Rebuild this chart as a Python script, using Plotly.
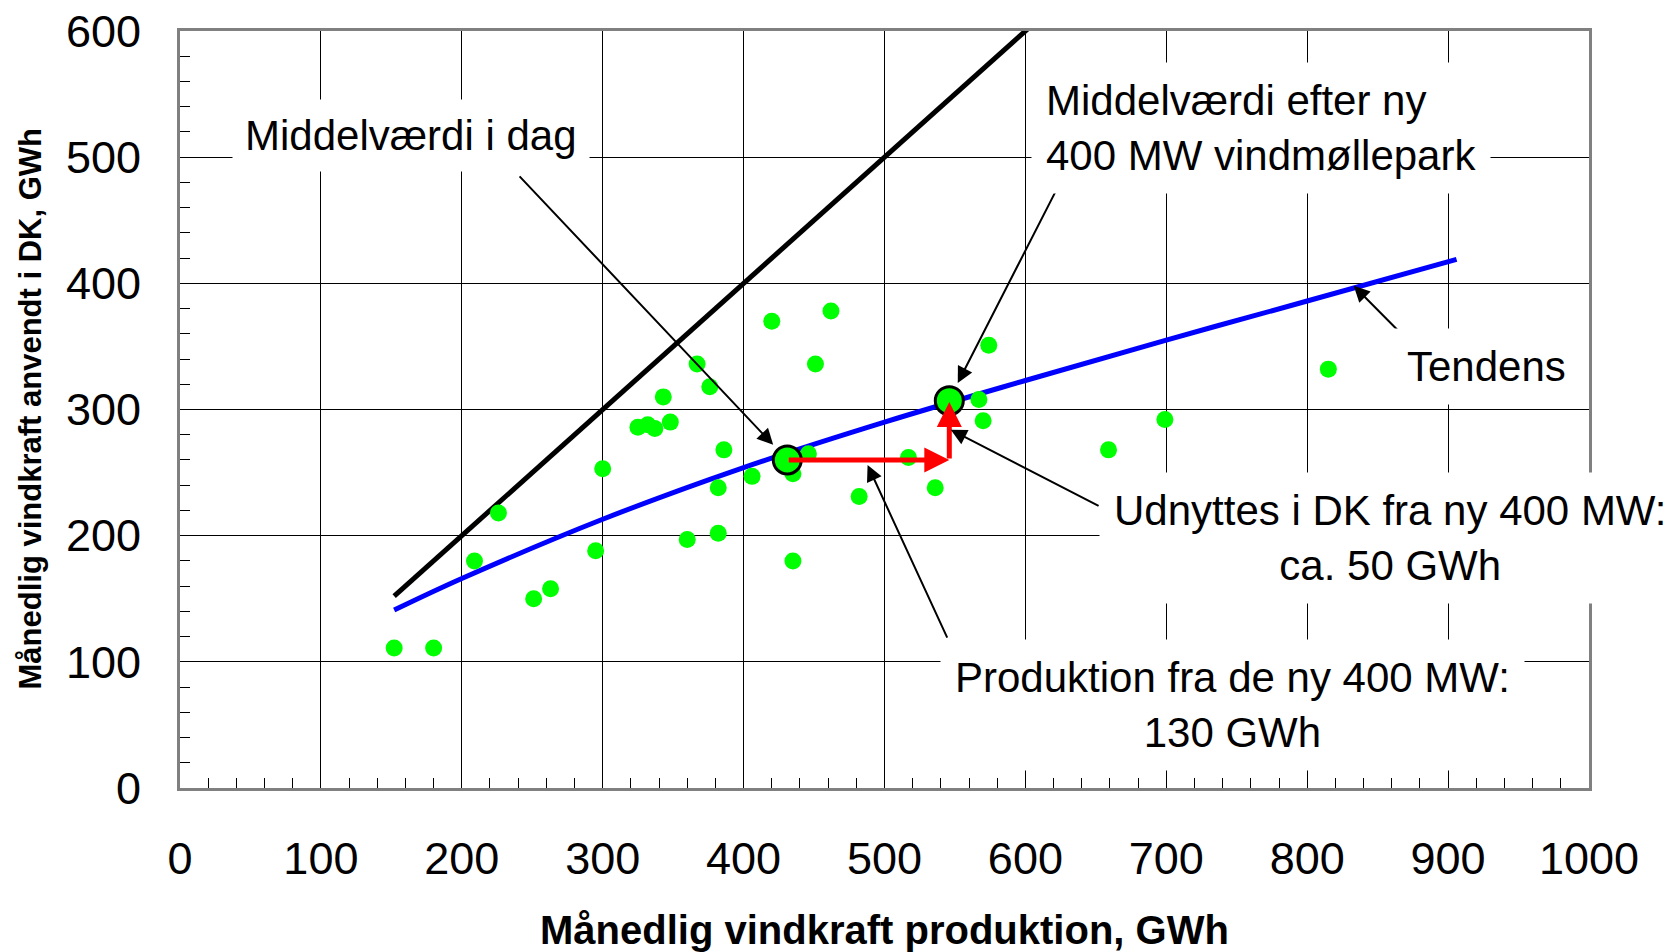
import plotly.graph_objects as go

# Monthly data points (GWh): production vs. used in DK
prod_x = [152, 180, 209, 226, 251, 263, 295, 300, 325, 332, 337, 343, 348, 360, 367,
          376, 382, 382, 386, 406, 420, 435, 435, 446, 451, 462, 482, 517, 536, 567,
          570, 574, 659, 699, 815]
used_y = [111, 111, 180, 218, 150, 158, 188, 253, 286, 288, 285, 310, 290, 197, 336,
          318, 238, 202, 268, 247, 370, 249, 180, 265, 336, 378, 231, 262, 238, 308,
          291, 351, 268, 292, 332]

# 1:1 line
one_x = [152, 609]
one_y = [152, 609]

# Trend curve
trend_x = [152, 200, 300, 400, 500, 600, 700, 800, 906]
trend_y = [141, 166, 213, 254, 290, 323, 355, 386, 419]

# Mean values
mean_today = (431, 260)
mean_after = (546, 307)

x_ticks = [0, 100, 200, 300, 400, 500, 600, 700, 800, 900, 1000]
y_ticks = [0, 100, 200, 300, 400, 500, 600]

FONT = "Liberation Sans, Arial, sans-serif"

fig = go.Figure()
fig.add_trace(go.Scatter(x=one_x, y=one_y, mode="lines",
                         line=dict(color="black", width=5), cliponaxis=False, showlegend=False))
fig.add_trace(go.Scatter(x=trend_x, y=trend_y, mode="lines", line_shape="spline",
                         line=dict(color="#0000ff", width=5), showlegend=False))
fig.add_trace(go.Scatter(x=prod_x, y=used_y, mode="markers",
                         marker=dict(color="#00ff00", size=17, line=dict(width=0)),
                         showlegend=False))
fig.add_trace(go.Scatter(x=[mean_today[0], mean_after[0]], y=[mean_today[1], mean_after[1]],
                         mode="markers",
                         marker=dict(color="#00ff00", size=28, line=dict(color="black", width=3)),
                         showlegend=False))

ann = []
# red arrows
ann.append(dict(x=mean_after[0], y=mean_today[1], ax=mean_today[0], ay=mean_today[1],
                xref="x", yref="y", axref="x", ayref="y", text="", showarrow=True,
                arrowhead=2, arrowsize=1.0, arrowwidth=5, arrowcolor="#ff0000"))
ann.append(dict(x=mean_after[0], y=mean_after[1] - 1, ax=mean_after[0], ay=mean_today[1],
                xref="x", yref="y", axref="x", ayref="y", text="", showarrow=True,
                arrowhead=2, arrowsize=1.0, arrowwidth=5, arrowcolor="#ff0000"))

# black pointer arrows (head x,y ; tail ax,ay)
arrows = [
    (421, 272, 240, 486),
    (552, 321, 627, 485),
    (833, 398, 865, 362),
    (547, 284, 653, 223),
    (488, 256, 545, 118),
]
for hx, hy, tx, ty in arrows:
    ann.append(dict(x=hx, y=hy, ax=tx, ay=ty, xref="x", yref="y", axref="x", ayref="y",
                    text="", showarrow=True, arrowhead=2, arrowsize=1.6, arrowwidth=2,
                    arrowcolor="black"))

tf = dict(family=FONT, size=42, color="black")
ann.append(dict(x=164, y=517, xref="x", yref="y", text="Middelværdi i dag", showarrow=False,
                font=tf, bgcolor="white", borderpad=12, xanchor="center", yanchor="middle"))
ann.append(dict(x=604, y=523, xref="x", yref="y",
                text="Middelværdi efter ny<br>400 MW vindmøllepark", showarrow=False,
                font=tf, bgcolor="white", borderpad=14, xanchor="left", yanchor="middle",
                align="left"))
ann.append(dict(x=860, y=334, xref="x", yref="y", text="Tendens", showarrow=False,
                font=tf, bgcolor="white", borderpad=14, xanchor="left", yanchor="middle"))
ann.append(dict(x=859, y=198, xref="x", yref="y",
                text="Udnyttes i DK fra ny 400 MW:<br>ca. 50 GWh", showarrow=False,
                font=tf, bgcolor="white", borderpad=14, xanchor="center", yanchor="middle",
                align="center"))
ann.append(dict(x=747, y=66, xref="x", yref="y",
                text="Produktion fra de ny 400 MW:<br>130 GWh", showarrow=False,
                font=tf, bgcolor="white", borderpad=14, xanchor="center", yanchor="middle",
                align="center"))

# axis titles
ann.append(dict(x=0.5, y=0, xref="paper", yref="paper", yshift=-142,
                text="<b>Månedlig vindkraft produktion, GWh</b>", showarrow=False,
                font=dict(family=FONT, size=40, color="black"),
                xanchor="center", yanchor="middle"))
ann.append(dict(x=0, y=0.5, xref="paper", yref="paper", xshift=-150,
                text="<b>Månedlig vindkraft anvendt i DK, GWh</b>", showarrow=False,
                textangle=-90, font=dict(family=FONT, size=31, color="black"),
                xanchor="center", yanchor="middle"))

fig.update_layout(
    width=1669, height=944,
    margin=dict(l=172, r=88, t=23, b=164, autoexpand=False),
    paper_bgcolor="white", plot_bgcolor="white",
    annotations=ann,
    font=dict(family=FONT, color="black"),
)
fig.update_xaxes(range=[0, 1000], tickvals=x_ticks, ticktext=[str(v) for v in x_ticks],
                 showgrid=True, gridcolor="black", gridwidth=1.3,
                 showline=True, linecolor="#808080", linewidth=3, mirror=True,
                 ticks="inside", ticklen=10, tickcolor="black",
                 minor=dict(dtick=20, ticks="inside", ticklen=10, tickcolor="black", showgrid=False),
                 tickfont=dict(family=FONT, size=45, color="black"), automargin=False,
                 ticklabelstandoff=29, ticklabeloverflow="allow", zeroline=False)
fig.update_yaxes(range=[0, 600], tickvals=y_ticks, ticktext=[str(v) for v in y_ticks],
                 showgrid=True, gridcolor="black", gridwidth=1.3,
                 showline=True, linecolor="#808080", linewidth=3, mirror=True,
                 ticks="inside", ticklen=10, tickcolor="black",
                 minor=dict(dtick=20, ticks="inside", ticklen=10, tickcolor="black", showgrid=False),
                 tickfont=dict(family=FONT, size=45, color="black"), automargin=False,
                 ticklabelstandoff=27, ticklabeloverflow="allow", zeroline=False)

fig.write_html("out.html")
